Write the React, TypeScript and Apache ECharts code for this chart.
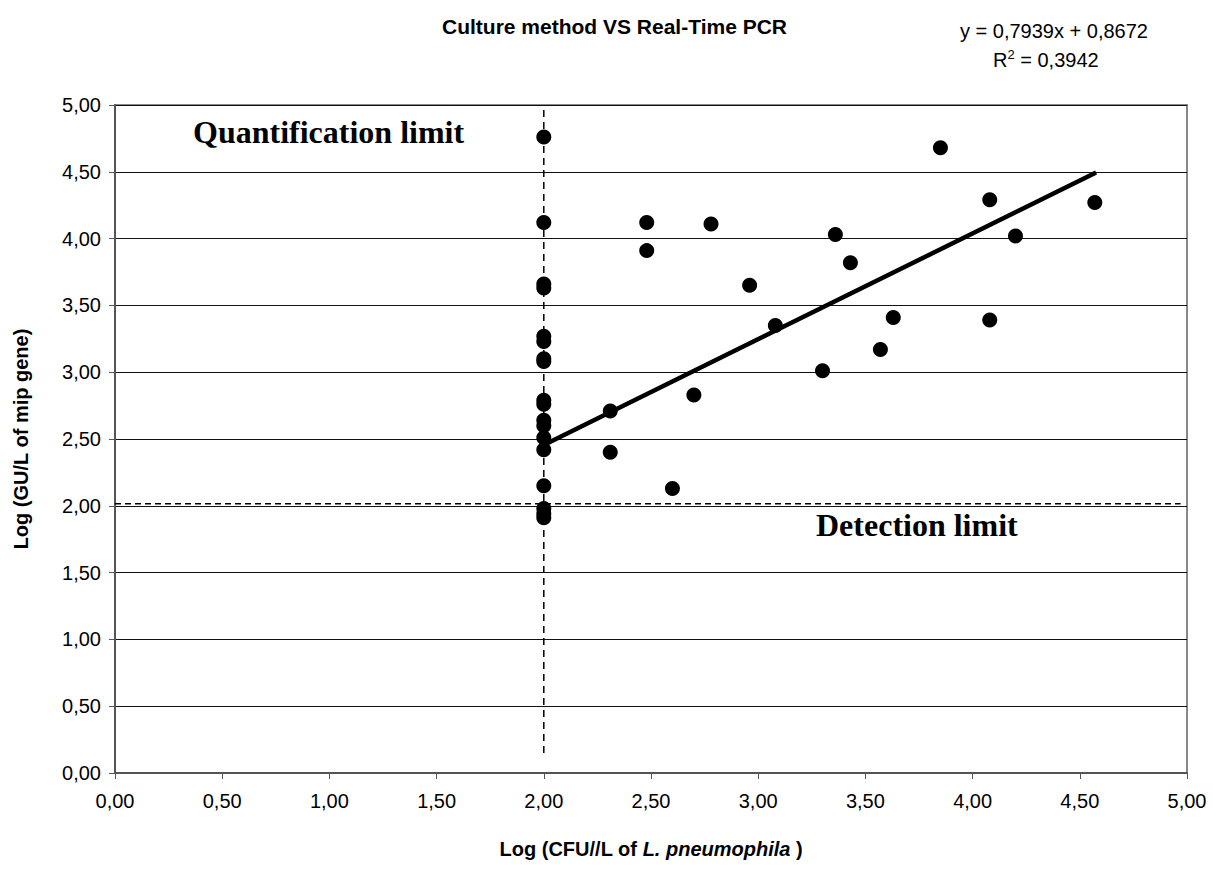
import React, { useEffect, useRef } from "react";
import * as echarts from "echarts";

// Points: [Log CFU/L, Log GU/L]
const pointsAtLimit: number[][] = [
  [2.0, 4.76], [2.0, 4.12], [2.0, 3.66], [2.0, 3.63], [2.0, 3.27], [2.0, 3.23],
  [2.0, 3.1], [2.0, 3.08], [2.0, 2.79], [2.0, 2.76], [2.0, 2.64], [2.0, 2.6],
  [2.0, 2.51], [2.0, 2.42], [2.0, 2.15], [2.0, 1.98], [2.0, 1.94], [2.0, 1.91],
];
const pointsAbove: number[][] = [
  [2.31, 2.71], [2.31, 2.4], [2.48, 4.12], [2.48, 3.91], [2.6, 2.13], [2.7, 2.83],
  [2.78, 4.11], [2.96, 3.65], [3.08, 3.35], [3.3, 3.01], [3.36, 4.03], [3.43, 3.82],
  [3.57, 3.17], [3.63, 3.41], [3.85, 4.68], [4.08, 4.29], [4.08, 3.39], [4.2, 4.02],
  [4.57, 4.27],
];
const trendLine: number[][] = [[2.0, 2.455], [4.576, 4.495]];
const quantLimitLine: number[][] = [[2.0, 0.15], [2.0, 5.0]];
const detectLimitLine: number[][] = [[0, 2.015], [4.97, 2.015]];

const titleText = "Culture method VS Real-Time PCR";
const equationText = "y = 0,7939x + 0,8672";
const r2Value = "0,3942";
const quantLabel = "Quantification limit";
const detectLabel = "Detection limit";
const yAxisTitle = "Log (GU/L of mip gene)";

const fmt = (v: number) => v.toFixed(2).replace(".", ",");

export default function App() {
  const ref = useRef<HTMLDivElement>(null);
  useEffect(() => {
    if (!ref.current) return;
    const chart = echarts.init(ref.current, null, { renderer: "svg" });
    const sans = "Arial, 'Liberation Sans', sans-serif";
    const serif = "'Times New Roman', 'Liberation Serif', serif";
    chart.setOption({
      animation: false,
      backgroundColor: "#fff",
      title: {
        text: titleText,
        left: 437,
        top: 11,
        textStyle: { fontFamily: sans, fontSize: 21, fontWeight: "bold", color: "#000" },
      },
      grid: {
        left: 115, right: 26, top: 105, bottom: 104,
        show: true, borderColor: "#888", borderWidth: 2, backgroundColor: "#fff",
      },
      xAxis: {
        type: "value", min: 0, max: 5, interval: 0.5,
        axisLine: { lineStyle: { color: "#555", width: 2 } },
        axisTick: { show: true, length: 6, lineStyle: { color: "#555" } },
        splitLine: { show: false },
        axisLabel: { formatter: fmt, fontFamily: sans, fontSize: 20, color: "#000", margin: 18 },
        name: "Log (CFU//L of {i|L. pneumophila} )",
        nameLocation: "middle",
        nameGap: 66,
        nameTextStyle: {
          fontFamily: sans, fontSize: 20, fontWeight: "bold", color: "#000",
          rich: { i: { fontFamily: sans, fontSize: 20, fontWeight: "bold", fontStyle: "italic", color: "#000" } },
        },
      },
      yAxis: {
        type: "value", min: 0, max: 5, interval: 0.5,
        axisLine: { show: true, lineStyle: { color: "#555", width: 2 } },
        axisTick: { show: true, length: 6, lineStyle: { color: "#555" } },
        splitLine: { show: true, lineStyle: { color: "#111", width: 1 } },
        axisLabel: { formatter: fmt, fontFamily: sans, fontSize: 20, color: "#000", margin: 14 },
        name: yAxisTitle,
        nameLocation: "middle",
        nameGap: 84,
        nameTextStyle: { fontFamily: sans, fontSize: 20, fontWeight: "bold", color: "#000" },
      },
      series: [
        {
          type: "line",
          data: quantLimitLine,
          symbol: "none",
          lineStyle: { color: "#000", width: 1.5, type: [7, 5] },
          z: 2,
        },
        {
          type: "line",
          data: detectLimitLine,
          symbol: "none",
          lineStyle: { color: "#000", width: 1.5, type: [6, 4] },
          z: 2,
        },
        {
          type: "scatter",
          data: pointsAtLimit,
          symbol: "circle",
          symbolSize: 15,
          itemStyle: { color: "#000", opacity: 1 },
          z: 4,
        },
        {
          type: "scatter",
          data: pointsAbove,
          symbol: "circle",
          symbolSize: 15,
          itemStyle: { color: "#000", opacity: 1 },
          z: 4,
        },
        {
          type: "line",
          data: trendLine,
          symbol: "none",
          lineStyle: { color: "#000", width: 4.5 },
          z: 3,
        },
      ],
      graphic: [
        {
          type: "text", left: 960, top: 21,
          style: { text: equationText, fontFamily: sans, fontSize: 20, fill: "#000" },
        },
        {
          type: "text", left: 993, top: 48,
          style: {
            text: "R{sup|2} = " + r2Value,
            fontFamily: sans, fontSize: 20, fill: "#000",
            rich: {
              sup: { fontFamily: sans, fontSize: 13, verticalAlign: "top", padding: [0, 0, 10, 0] },
            },
          },
        },
        {
          type: "text", left: 193, top: 116,
          style: { text: quantLabel, fontFamily: serif, fontSize: 32, fontWeight: "bold", fill: "#000" },
          z: 10,
        },
        {
          type: "text", left: 816, top: 509,
          style: { text: detectLabel, fontFamily: serif, fontSize: 32, fontWeight: "bold", fill: "#000" },
          z: 10,
        },
      ],
    });
    return () => chart.dispose();
  }, []);
  return (
    <div
      ref={ref}
      style={{ position: "absolute", left: 0, top: 0, width: 1213, height: 877 }}
    />
  );
}
